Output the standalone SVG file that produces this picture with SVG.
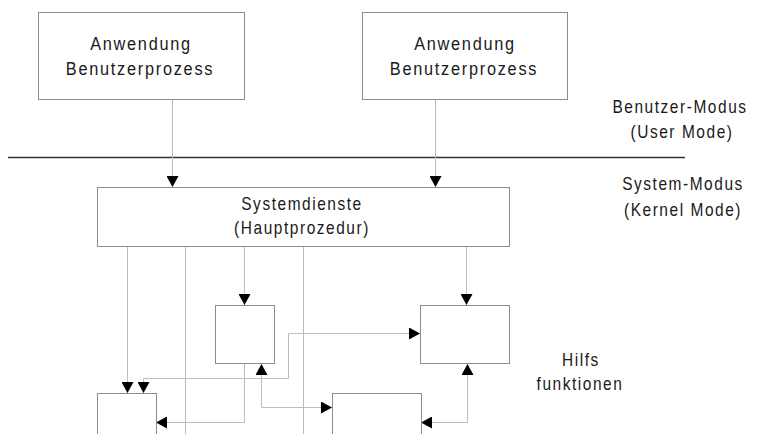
<svg xmlns="http://www.w3.org/2000/svg" width="758" height="434" viewBox="0 0 758 434">
  <style>
    .box { fill: #ffffff; stroke: #8c8c8c; stroke-width: 1; }
    .lbl { font-family: "Liberation Sans", Arial, sans-serif; font-size: 19px; fill: #1a1a1a; text-anchor: middle; letter-spacing: 2px; }
    .side { font-size: 18px; letter-spacing: 1.8px; }
    .conn { fill: none; stroke: #bdbdbd; stroke-width: 1; }
    .sep { stroke: #333333; stroke-width: 1.5; }
  </style>
  <defs>
    <marker id="arrow" markerUnits="userSpaceOnUse" markerWidth="11" markerHeight="12" refX="11" refY="6" orient="auto-start-reverse">
      <path d="M0,0 L11,6 L0,12 z" fill="#000000"/>
    </marker>
  </defs>

  <rect width="758" height="434" fill="#ffffff"/>

  <!-- mode boundary and side captions (narrow lettering) -->
  <line class="sep" x1="8" y1="157.5" x2="685" y2="157.5"/>
  <g transform="translate(680,113) scale(0.86,1)"><text class="lbl side">Benutzer-Modus</text></g>
  <g transform="translate(682,138) scale(0.86,1)"><text class="lbl side">(User Mode)</text></g>
  <g transform="translate(683,190) scale(0.86,1)"><text class="lbl side">System-Modus</text></g>
  <g transform="translate(683,216) scale(0.86,1)"><text class="lbl side">(Kernel Mode)</text></g>
  <g transform="translate(581,366) scale(0.86,1)"><text class="lbl side">Hilfs</text></g>
  <g transform="translate(580,390) scale(0.86,1)"><text class="lbl side">funktionen</text></g>

  <!-- connectors -->
  <g id="connectors">
    <path class="conn" d="M172.5,99 V187" marker-end="url(#arrow)"/>
    <path class="conn" d="M435.5,99 V187" marker-end="url(#arrow)"/>
    <path class="conn" d="M127.5,247 V393" marker-end="url(#arrow)"/>
    <path class="conn" d="M185.5,247 V434"/>
    <path class="conn" d="M244.5,247 V305" marker-end="url(#arrow)"/>
    <path class="conn" d="M303.5,247 V434"/>
    <path class="conn" d="M466.5,247 V305" marker-end="url(#arrow)"/>
    <path class="conn" d="M143.5,393 V378.5 H288.5 V333.5 H420" marker-start="url(#arrow)" marker-end="url(#arrow)"/>
    <path class="conn" d="M244.5,364 V422.5 H156" marker-end="url(#arrow)"/>
    <path class="conn" d="M261.5,364 V407.5 H332" marker-start="url(#arrow)" marker-end="url(#arrow)"/>
    <path class="conn" d="M467.5,364 V422.5 H421" marker-start="url(#arrow)" marker-end="url(#arrow)"/>
  </g>

  <g id="app1">
    <rect class="box" x="38.5" y="12.5" width="206" height="87"/>
    <g transform="translate(141,50) scale(0.86,1)"><text class="lbl">Anwendung</text></g>
    <g transform="translate(140,75) scale(0.86,1)"><text class="lbl">Benutzerprozess</text></g>
  </g>
  <g id="app2">
    <rect class="box" x="362.5" y="12.5" width="205" height="87"/>
    <g transform="translate(465,50) scale(0.86,1)"><text class="lbl">Anwendung</text></g>
    <g transform="translate(464,75) scale(0.86,1)"><text class="lbl">Benutzerprozess</text></g>
  </g>
  <g id="systemdienste">
    <rect class="box" x="97.5" y="187.5" width="412" height="59"/>
    <g transform="translate(302,210) scale(0.86,1)"><text class="lbl side">Systemdienste</text></g>
    <g transform="translate(302,234) scale(0.86,1)"><text class="lbl side">(Hauptprozedur)</text></g>
  </g>
  <g id="hilf1">
    <rect class="box" x="215.5" y="305.5" width="59" height="58"/>
  </g>
  <g id="hilf2">
    <rect class="box" x="420.5" y="305.5" width="89" height="58"/>
  </g>
  <g id="hilf3">
    <rect class="box" x="97.5" y="393.5" width="59" height="60"/>
  </g>
  <g id="hilf4">
    <rect class="box" x="332.5" y="393.5" width="89" height="60"/>
  </g>
</svg>
